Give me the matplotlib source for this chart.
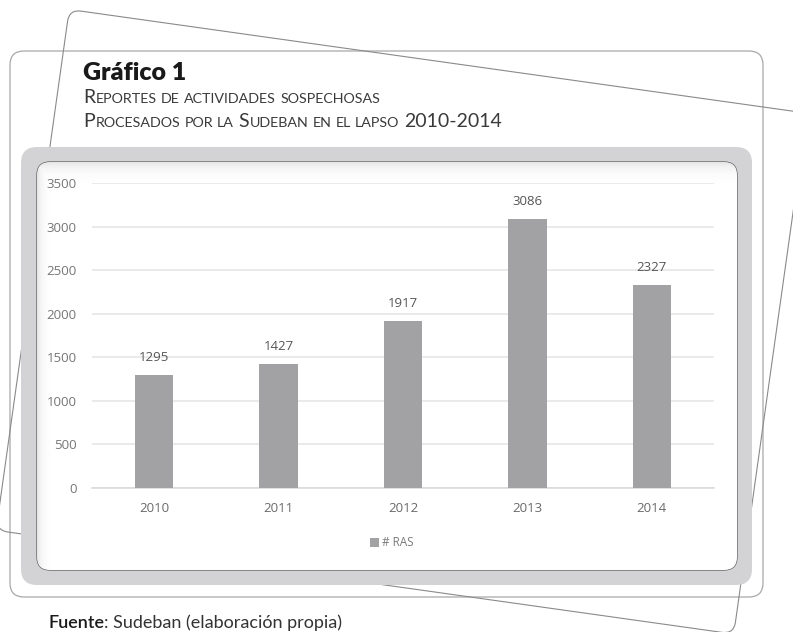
import numpy as np
import matplotlib.pyplot as plt
from matplotlib.patches import FancyBboxPatch
from matplotlib.transforms import Affine2D

years = ['2010', '2011', '2012', '2013', '2014']
ras = [1295, 1427, 1917, 3086, 2327]
yticks = [0, 500, 1000, 1500, 2000, 2500, 3000, 3500]
series_name = '# RAS'

title = 'Gráfico 1'
subtitle = ['Reportes de actividades sospechosas',
            'Procesados por la Sudeban en el lapso 2010-2014']
source_bold = 'Fuente'
source_rest = ': Sudeban (elaboración propia)'

W, H = 793, 632
fig = plt.figure(figsize=(W / 100, H / 100), dpi=100)
fig.patch.set_facecolor('white')
renderer = fig.canvas.get_renderer()

# background layer, one data unit = one pixel, y going down
bg = fig.add_axes([0, 0, 1, 1], zorder=0)
bg.set_xlim(0, W)
bg.set_ylim(H, 0)
bg.axis('off')

# straight outline sheet
bg.add_patch(FancyBboxPatch((10, 51), 753, 546,
                            boxstyle='round,pad=0,rounding_size=14',
                            fill=False, ec='#a8a8a8', lw=0.9, zorder=1))
# tilted outline sheet
cx, cy = 401.5, 321.75
tilt = FancyBboxPatch((cx - 372.5, cy - 263), 745, 526,
                      boxstyle='round,pad=0,rounding_size=12',
                      fill=False, ec='#8a8a8a', lw=0.8, zorder=1,
                      transform=Affine2D().rotate_deg_around(cx, cy, 8.0) + bg.transData)
bg.add_patch(tilt)

# gray frame and white inner card
bg.add_patch(FancyBboxPatch((21, 147), 731, 438,
                            boxstyle='round,pad=0,rounding_size=16',
                            fc='#d3d3d5', ec='none', zorder=2))
card = FancyBboxPatch((37, 162), 700, 408,
                      boxstyle='round,pad=0,rounding_size=13',
                      fc='white', ec='#5a5a5a', lw=0.9, zorder=3)
bg.add_patch(card)

# soft inner shadow along top and left of the card
gx = np.arange(37, 737) - 37
gy = np.arange(162, 570) - 162
d = np.minimum(gy[:, None], gx[None, :] * 1.6)
shade = 1 - 0.10 * np.exp(-d / 7.0)
img = bg.imshow(shade, cmap='gray', vmin=0, vmax=1, extent=(37, 737, 570, 162),
                zorder=4, interpolation='bilinear', aspect='auto')
img.set_clip_path(card)
bg.set_xlim(0, W)
bg.set_ylim(H, 0)


def width_of(s, **kw):
    t = bg.text(0, 0, s, **kw)
    w = t.get_window_extent(renderer).width
    t.remove()
    return w


def small_caps(x, y, text, big, small, color='#3a3a3a'):
    kw = dict(family='Lato', weight='normal', color=color)
    space = width_of('a a', fontsize=small, **kw) - width_of('aa', fontsize=small, **kw)
    runs = []
    for ch in text:
        if ch == ' ':
            runs.append((' ', None))
            continue
        size = small if ch.islower() else big
        if runs and runs[-1][1] == size:
            runs[-1] = (runs[-1][0] + ch.upper(), size)
        else:
            runs.append((ch.upper(), size))
    for s, size in runs:
        if size is None:
            x += space
            continue
        t = bg.text(x, y, s, fontsize=size, va='baseline', ha='left', zorder=5, **kw)
        x += t.get_window_extent(renderer).width + 0.6


bg.text(83, 80, title, fontsize=18, weight='heavy', family='Lato',
        color='#1a1a1a', va='baseline', ha='left', zorder=5)
small_caps(83, 103, subtitle[0], 14, 10.3)
small_caps(83, 127, subtitle[1], 14, 10.3)

t = bg.text(48, 628, source_bold, fontsize=13, family='Lato', weight='semibold',
            color='#1a1a1a', va='baseline', ha='left', zorder=5)
bg.text(48 + t.get_window_extent(renderer).width, 628, source_rest, fontsize=13,
        family='Lato', weight='normal', color='#333333', va='baseline', ha='left', zorder=5)

# bar chart
ax = fig.add_axes([92 / W, (H - 488) / H, (714 - 92) / W, (488 - 183) / H], zorder=2)
ax.patch.set_alpha(0)
x = np.arange(len(years))
bars = ax.bar(x, ras, width=0.31, color='#a2a2a5', label=series_name, zorder=3)
for xi, v in zip(x, ras):
    ax.annotate(str(v), (xi, v), xytext=(0, 8), textcoords='offset points',
                ha='center', va='bottom', fontsize=9.5, family='Open Sans', color='#555555')

ax.set_xlim(-0.5, len(years) - 0.5)
ax.set_ylim(0, 3500)
ax.set_yticks(yticks)
ax.set_xticks(x)
ax.set_xticklabels(years)
ax.grid(axis='y', color='#e4e4e4', lw=1.1, zorder=0)
for side in ['top', 'right', 'left']:
    ax.spines[side].set_visible(False)
ax.spines['bottom'].set_color('#d9d9d9')
ax.spines['bottom'].set_linewidth(1.1)
ax.tick_params(axis='y', length=0, pad=11, labelsize=9.5, labelcolor='#767676')
ax.tick_params(axis='x', length=0, pad=10, labelsize=9.5, labelcolor='#6a6a6a')
for lbl in ax.get_xticklabels() + ax.get_yticklabels():
    lbl.set_family('Open Sans')

ax.legend(handles=[bars], loc='center', bbox_to_anchor=(392 / W, 1 - 543 / H),
          bbox_transform=fig.transFigure, frameon=False, handlelength=0.7,
          handleheight=0.7, handletextpad=0.3, prop={'family': 'Open Sans', 'size': 8.5},
          labelcolor='#7a7a7a')

fig.savefig('out.png', dpi=100, facecolor='white')
